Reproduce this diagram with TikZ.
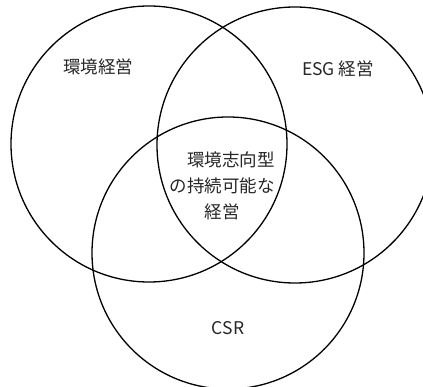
\documentclass[tikz,border=0pt]{standalone}
\usepackage{fontspec}
\setmainfont{Noto Sans CJK JP}
\begin{document}
\begin{tikzpicture}[x=1pt,y=-1pt,
  ring/.style={draw=black,line width=1.3pt},
  lbl/.style={font=\fontsize{17.5}{26}\selectfont,text=black!85,inner sep=0pt}]
\useasboundingbox (0,0) rectangle (423,387);
\begin{scope}
\clip (0,0) rectangle (423,387);
\node[ring,circle,minimum size=276pt,inner sep=0pt] (env) at (149,144) {};
\node[ring,circle,minimum size=276pt,inner sep=0pt] (esg) at (295,145) {};
\node[ring,circle,minimum size=272pt,inner sep=0pt] (csr) at (228,253) {};
\end{scope}
\node[lbl] (tenv) at (98,67) {環境経営};
\node[lbl] (tesg) at (338,69) {ESG 経営};
\node[lbl,align=center] (tmid) at (222,186) {　環境志向型\\の持続可能な\\経営};
\node[lbl] (tcsr) at (228,328) {CSR};
\end{tikzpicture}
\end{document}
